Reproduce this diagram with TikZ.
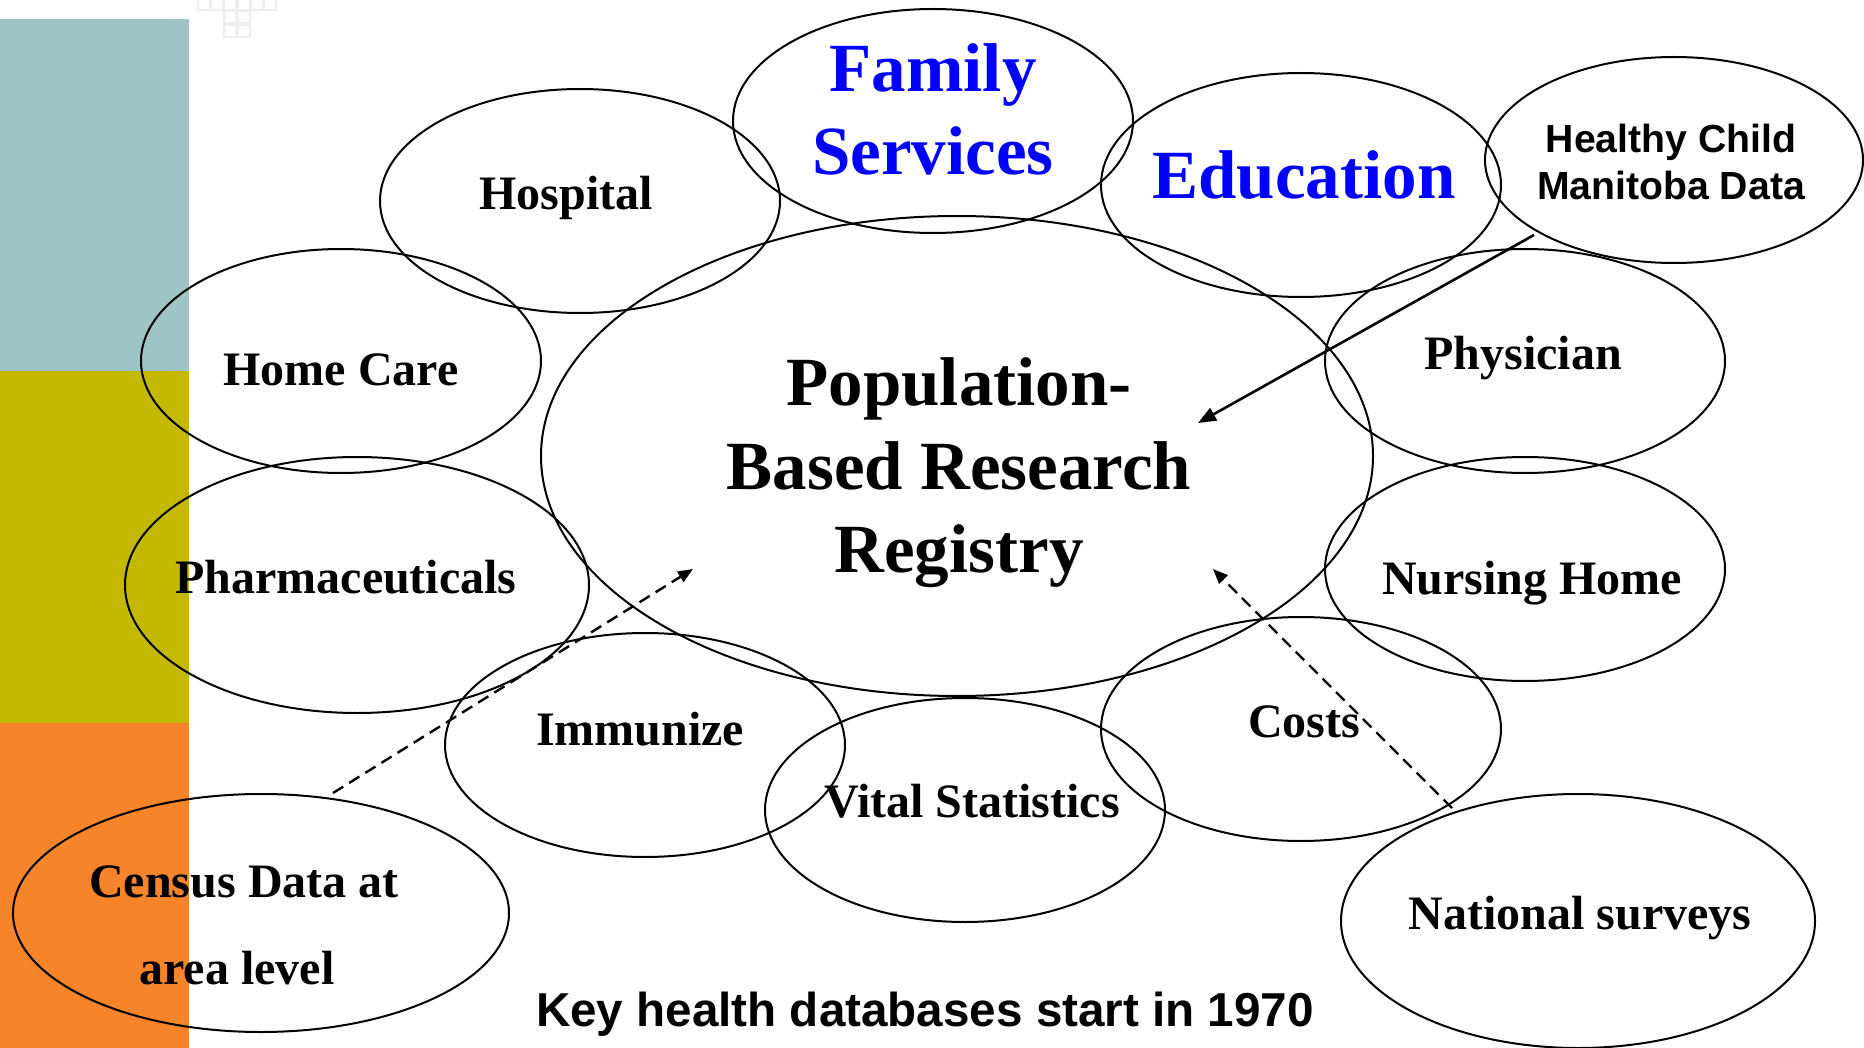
\documentclass[tikz,border=0pt]{standalone}
\usepackage{fontspec}
\setmainfont{Liberation Serif}
\newfontfamily\arialf{Liberation Sans}
\usetikzlibrary{shapes.geometric,arrows.meta}
\definecolor{barteal}{HTML}{9DC4C7}
\definecolor{barolive}{HTML}{C4B800}
\definecolor{barorange}{HTML}{F5842A}
\definecolor{txtblue}{HTML}{0000FF}
\definecolor{gridgray}{HTML}{EEEEEE}
\begin{document}
\begin{tikzpicture}[x=0.5pt,y=-0.5pt,
  oval/.style 2 args={ellipse,draw=black,line width=1pt,inner sep=0pt,
    minimum width=#1 pt,minimum height=#2 pt},
  lbl/.style={anchor=base,inner sep=0pt,font=\bfseries\fontsize{24}{28}\selectfont},
  biglbl/.style={anchor=base,inner sep=0pt,font=\bfseries\fontsize{34.5}{41}\selectfont},
  bluelbl/.style={biglbl,text=txtblue},
  sanslbl/.style={anchor=base,inner sep=0pt,font=\arialf\bfseries\fontsize{19.6}{23}\selectfont},
  solidarrow/.style={line width=1.3pt,-{Triangle[length=9pt,width=7pt]}},
  dasharrow/.style={line width=1.2pt,dash pattern=on 6pt off 3.5pt,-{Triangle[length=7.5pt,width=6pt]}}
  ]
\useasboundingbox (0,0) rectangle (1864,1048);
\fill[white] (0,0) rectangle (1864,1048);
% side bars
\fill[barteal] (0,19) rectangle (189,371);
\fill[barolive] (0,371) rectangle (189,723);
\fill[barorange] (0,723) rectangle (189,1048);
% faint grid squares
\foreach \x in {198,211,224,238,251,264} \draw[gridgray,line width=0.6pt] (\x,-3) rectangle ++(12,13);
\foreach \x in {224,238} {\draw[gridgray,line width=0.6pt] (\x,11) rectangle ++(12,12);
  \draw[gridgray,line width=0.6pt] (\x,25) rectangle ++(12,12);}
% ellipses
\node[oval={200}{112}] (fam) at (933,121) {};
\node[oval={200}{112}] (hosp) at (580,201) {};
\node[oval={200}{112}] (edu) at (1301,185) {};
\node[oval={189}{103}] (hcm) at (1674,160) {};
\node[oval={200}{112}] (home) at (341,361) {};
\node[oval={416}{240}] (main) at (957,456) {};
\node[oval={200}{112}] (phys) at (1525,361) {};
\node[oval={232}{128}] (pharm) at (357,585) {};
\node[oval={200}{112}] (nurs) at (1525,569) {};
\node[oval={200}{112}] (imm) at (645,745) {};
\node[oval={200}{112}] (costs) at (1301,729) {};
\node[oval={200}{112}] (vital) at (965,810) {};
\node[oval={248}{119}] (census) at (261,913) {};
\node[oval={237}{127}] (nat) at (1578,921) {};
% texts
\node[bluelbl] (tfam1) at (933,92) {Family};
\node[bluelbl] (tfam2) at (933,175) {Services};
\node[bluelbl] (tedu) at (1304,199) {Education};
\node[lbl] (thosp) at (566,210) {Hospital};
\node[lbl] (thome) at (341,386) {Home Care};
\node[lbl] (tphys) at (1523,370) {Physician};
\node[lbl] (tpharm) at (346,593) {Pharmaceuticals};
\node[lbl] (tnurs) at (1532,594) {Nursing Home};
\node[lbl] (timm) at (640,745) {Immunize};
\node[lbl] (tcosts) at (1304,737) {Costs};
\node[lbl] (tvital) at (972,817) {Vital Statistics};
\node[lbl] (tcen1) at (244,897) {Census Data at};
\node[lbl] (tcen2) at (237,984) {area level};
\node[lbl] (tnat) at (1580,929) {National surveys};
\node[biglbl] (tmain1) at (959,406) {Population-};
\node[biglbl] (tmain2) at (959,489) {Based Research};
\node[biglbl] (tmain3) at (959,572) {Registry};
\node[sanslbl] (thcm1) at (1671,153) {Healthy Child};
\node[sanslbl] (thcm2) at (1671,200) {Manitoba Data};
\node[anchor=base,inner sep=0pt,font=\arialf\bfseries\fontsize{23.8}{28}\selectfont] (tkey) at (925,1026) {Key health databases start in 1970};
% arrows
\coordinate (a1t) at (1534,235);
\coordinate (a1h) at (1198,423);
\coordinate (a2t) at (333,793);
\coordinate (a2h) at (693,569);
\coordinate (a3t) at (1452,808);
\coordinate (a3h) at (1213,569);
\draw[solidarrow] (a1t) -- (a1h);
\draw[dasharrow] (a2t) -- (a2h);
\draw[dasharrow] (a3t) -- (a3h);
\end{tikzpicture}
\end{document}
